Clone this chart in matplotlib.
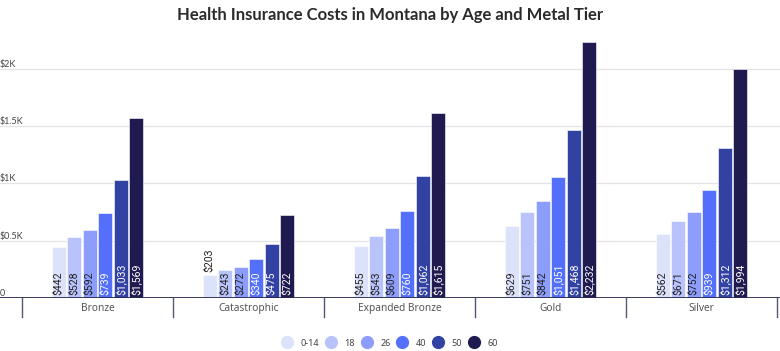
import matplotlib
matplotlib.use("Agg")
import matplotlib.pyplot as plt
import matplotlib.transforms as mtransforms
from matplotlib.lines import Line2D
import numpy as np

categories = ["Bronze", "Catastrophic", "Expanded Bronze", "Gold", "Silver"]
ages = ["0-14", "18", "26", "40", "50", "60"]
age_0_14 = [442, 203, 455, 629, 562]
age_18 = [528, 243, 543, 751, 671]
age_26 = [592, 272, 609, 842, 752]
age_40 = [739, 340, 760, 1051, 939]
age_50 = [1033, 475, 1062, 1468, 1312]
age_60 = [1569, 722, 1615, 2232, 1994]
series = [age_0_14, age_18, age_26, age_40, age_50, age_60]
colors = ["#dde2fb", "#b9c3fb", "#8c9dfb", "#5470fb", "#3242a3", "#1f1b50"]
label_colors = ["#222222", "#222222", "#222222", "#ffffff", "#ffffff", "#ffffff"]
yticks = [0, 500, 1000, 1500, 2000]
ytick_labels = ["0", "$0.5K", "$1K", "$1.5K", "$2K"]
title = "Health Insurance Costs in Montana by Age and Metal Tier"

W, H = 780, 351
fig = plt.figure(figsize=(W / 100, H / 100), dpi=100)
px_per_unit = 151.0
x_left = -0.5 - 22 / px_per_unit
x_right = x_left + W / px_per_unit
base_px = 298.0
ymax = 2300
ppu_y = 256.0 / 2232
ax_h_px = ymax * ppu_y
ax = fig.add_axes([0, 1 - base_px / H, 1, ax_h_px / H])
ax.set_xlim(x_left, x_right)
ax.set_ylim(0, ymax)
for s in ax.spines.values():
    s.set_visible(False)
ax.set_yticks([])

slot = 15.5 / px_per_unit
bw = 14.0 / px_per_unit
x = np.arange(len(categories))
for i, (vals, c, lc) in enumerate(zip(series, colors, label_colors)):
    xs = x + (i - 2.5) * slot
    ax.bar(xs, vals, width=bw, color=c, zorder=3, edgecolor="#ffffff", linewidth=0.4)
    for xi, v in zip(xs, vals):
        text = f"${v:,}"
        bar_px = v * ppu_y
        if bar_px > 27:
            ax.annotate(text, (xi, 0), xytext=(0, 2.5), textcoords="offset points",
                        rotation=90, ha="center", va="bottom", fontsize=7.6,
                        family="Roboto", color=lc, zorder=4)
        else:
            ax.annotate(text, (xi, v), xytext=(0, 2), textcoords="offset points",
                        rotation=90, ha="center", va="bottom", fontsize=7.6,
                        family="Roboto", color="#222222", zorder=4)

# grid lines and y labels
for yv, yl in zip(yticks, ytick_labels):
    if yv > 0:
        ax.axhline(yv, color="#e3e3e8", linewidth=0.9, zorder=1)
    ax.text(0.0, yv, yl, transform=mtransforms.blended_transform_factory(ax.transAxes, ax.transData),
            ha="left", va="bottom", fontsize=6.5, family="Lato", color="#444444")
ax.axhline(0, color="#2b2a55", linewidth=1.3, zorder=5)

# category separators
trans = mtransforms.blended_transform_factory(ax.transData, ax.transAxes)
sep_len = 19.0 / ax_h_px
for k in range(len(categories) + 1):
    ax.plot([k - 0.5, k - 0.5], [0, -sep_len], transform=trans, color="#55557a",
            linewidth=1.0, clip_on=False)
ax.set_xticks(x)
ax.set_xticklabels(categories, fontsize=7.3, family="Noto Sans", color="#555555")
ax.tick_params(axis="x", length=0, pad=3.5)

fig.text(0.5, 1 - 15 / H, title, ha="center", va="center", fontsize=12,
         family="Lato", fontweight="bold", color="#2b2b2b")

handles = [Line2D([0], [0], marker="o", linestyle="", markersize=8.5,
                  markerfacecolor=c, markeredgecolor=c) for c in colors]
fig.legend(handles, ages, loc="center", bbox_to_anchor=(0.5, 1 - 343 / H), ncol=6,
           frameon=False, handlelength=1.0, handletextpad=1.0, columnspacing=0.8,
           prop={"family": "Noto Sans", "size": 6.5}, labelcolor="#444444")

fig.savefig("out.png", dpi=100)
